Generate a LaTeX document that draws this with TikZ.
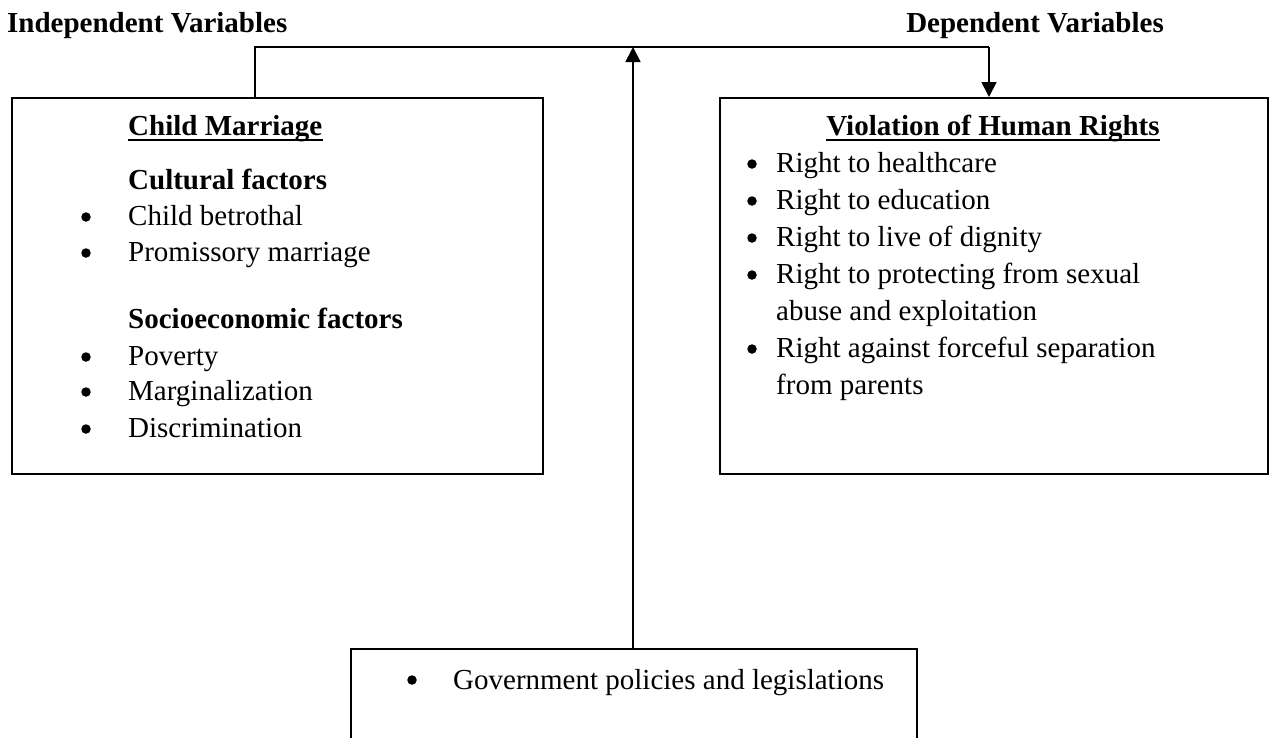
\documentclass[tikz,border=0pt]{standalone}
\usepackage{fontspec}
\setmainfont{Liberation Serif}
\usetikzlibrary{arrows.meta}

\tikzset{
  frame/.style={draw, line width=1.6pt, inner sep=0pt},
  txt/.style={anchor=base west, inner sep=0pt, font=\fontsize{29}{36}\selectfont},
  hd/.style={txt, font=\fontsize{29}{36}\selectfont\bfseries},
  bul/.style={circle, fill, inner sep=0pt, minimum size=9.5pt},
  link/.style={line width=1.8pt},
  arr/.style={link, -{Triangle[width=15pt,length=15pt]}},
}

\begin{document}
\begin{tikzpicture}[x=1pt,y=-1pt]
  \useasboundingbox (0,0) rectangle (1269,737);
  \clip (0,0) rectangle (1269,737);

  % Titles over the two columns
  \node[hd] (iv) at (7,32) {Independent Variables};
  \node[hd, anchor=base east] (dv) at (1164,32) {Dependent Variables};

  % The three boxes
  \node[frame, minimum width=531pt, minimum height=376pt, anchor=north west] (cm) at (11,97) {};
  \node[frame, minimum width=548pt, minimum height=376pt, anchor=north west] (vhr) at (719,97) {};
  \node[frame, minimum width=566pt, minimum height=200pt, anchor=north west] (gov) at (350,648) {};

  % Left box: child marriage
  \node[hd] (cmh) at (128,135) {Child Marriage};
  \draw[line width=1.6pt] ([yshift=-5pt]cmh.base west) -- ([yshift=-5pt]cmh.base east);
  \node[hd] (cf) at (128,189) {Cultural factors};
  \foreach \t/\y [count=\i] in {Child betrothal/225, Promissory marriage/261} {
    \node[bul] (cfb\i) at (86,{\y-8}) {};
    \node[txt] (cf\i) at (128,\y) {\t};
  }
  \node[hd] (sf) at (128,328) {Socioeconomic factors};
  \foreach \t/\y [count=\i] in {Poverty/365, Marginalization/400, Discrimination/437} {
    \node[bul] (sfb\i) at (86,{\y-8}) {};
    \node[txt] (sf\i) at (128,\y) {\t};
  }

  % Right box: human rights
  \node[hd, anchor=base] (vhrh) at (993,135) {Violation of Human Rights};
  \draw[line width=1.6pt] ([yshift=-5pt]vhrh.base west) -- ([yshift=-5pt]vhrh.base east);
  \foreach \y in {172,209,246,283,357} {
    \node[bul] (rb\y) at (752,{\y-8}) {};
  }
  \foreach \t/\y [count=\i] in {Right to healthcare/172, Right to education/209,
      Right to live of dignity/246, Right to protecting from sexual/283,
      abuse and exploitation/320, Right against forceful separation/357,
      from parents/394} {
    \node[txt] (r\i) at (776,\y) {\t};
  }

  % Bottom box: government
  \node[bul] (gb) at (412,680) {};
  \node[txt] (g1) at (453,689) {Government policies and legislations};

  % Connectors
  \coordinate (jl) at (255,47);
  \coordinate (jm) at (633,47);
  \coordinate (jr) at (989,47);
  \draw[link] (jl |- cm.north) -- (jl) -- (jr);
  \draw[arr] (jr) -- (jr |- vhr.north);
  \draw[arr] (jm |- gov.north) -- (jm);
\end{tikzpicture}
\end{document}
